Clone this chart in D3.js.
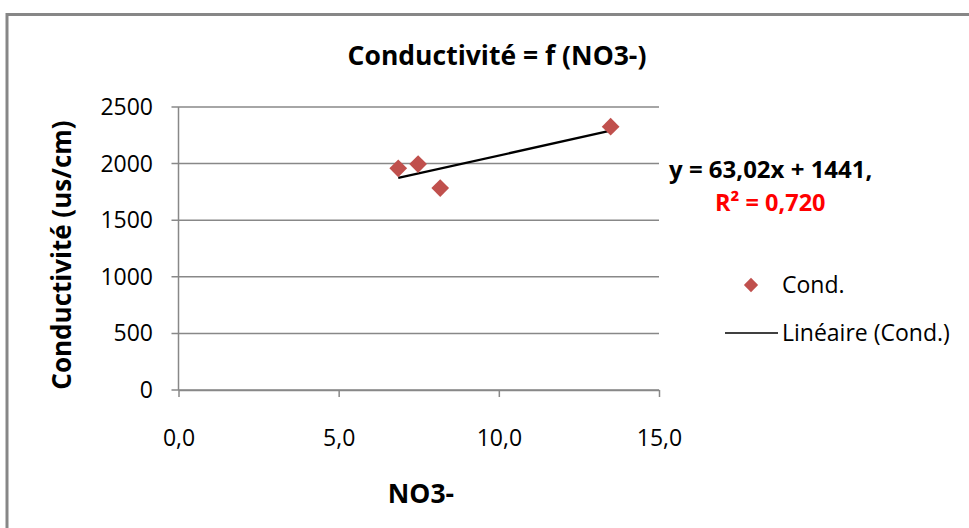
<!DOCTYPE html>
<html>
<head>
<meta charset="utf-8">
<script src="https://cdn.jsdelivr.net/npm/d3@7"></script>
<style>
  body { margin: 0; background: #fff; }
  svg { display: block; font-family: "Open Sans", sans-serif; }
</style>
</head>
<body>
<div id="chart"></div>
<script>
// DATA
const seriesName = "Cond.";
const no3 = [6.86, 7.48, 8.17, 13.49];
const cond = [1958, 1996, 1784, 2326];
const trendSlope = 63.02;
const trendIntercept = 1441;
const xTicks = [0, 5, 10, 15];
const yTicks = [0, 500, 1000, 1500, 2000, 2500];

const W = 969, H = 528;
const plot = { left: 178.5, right: 659, top: 107, bottom: 390 };

const svg = d3.select("#chart").append("svg")
    .attr("width", W)
    .attr("height", H);

// outer frame (cut off on right and bottom)
svg.append("path")
    .attr("d", `M7,${H + 5} V14.5 H${W + 5}`)
    .attr("fill", "none")
    .attr("stroke", "#878787")
    .attr("stroke-width", 3);

// scales
const x = d3.scaleLinear().domain([0, 15]).range([plot.left, plot.right]);
const y = d3.scaleLinear().domain([0, 2500]).range([plot.bottom, plot.top]);

// gridlines + y ticks
svg.append("g")
    .selectAll("line")
    .data(yTicks)
    .join("line")
    .attr("x1", plot.left - 7)
    .attr("x2", plot.right)
    .attr("y1", d => y(d))
    .attr("y2", d => y(d))
    .attr("stroke", "#888")
    .attr("stroke-width", 1.5);

// y axis line
svg.append("line")
    .attr("x1", plot.left).attr("x2", plot.left)
    .attr("y1", plot.top).attr("y2", plot.bottom)
    .attr("stroke", "#888")
    .attr("stroke-width", 1.5);

// x axis
const xAxis = svg.append("g")
    .attr("transform", `translate(0,${plot.bottom})`)
    .call(d3.axisBottom(x).tickValues(xTicks).tickSize(7).tickSizeOuter(0)
        .tickFormat(d => d3.format(".1f")(d).replace(".", ",")));
xAxis.select(".domain").attr("stroke", "#888").attr("stroke-width", 1.5);
xAxis.selectAll(".tick line").attr("stroke", "#888").attr("stroke-width", 1.5);
xAxis.selectAll(".tick text")
    .attr("y", 48)
    .attr("dy", "0.35em")
    .style("font-size", "23px")
    .style("font-family", "'Open Sans', sans-serif")
    .attr("fill", "#000");

// y tick labels
svg.append("g")
    .selectAll("text")
    .data(yTicks)
    .join("text")
    .attr("x", 153)
    .attr("y", d => y(d))
    .attr("dy", "0.35em")
    .attr("text-anchor", "end")
    .style("font-size", "23px")
    .text(d => d);

// trend line
const xs = d3.extent(no3);
const trend = xs.map(v => ({ x: v, y: trendSlope * v + trendIntercept }));
svg.append("path")
    .datum(trend)
    .attr("d", d3.line().x(d => x(d.x)).y(d => y(d.y)))
    .attr("stroke", "#000")
    .attr("stroke-width", 2.2)
    .attr("fill", "none");

// points
const diamond = d3.symbol().type(d3.symbolDiamond2).size(200);
svg.append("g")
    .selectAll("path")
    .data(no3.map((v, i) => ({ x: v, y: cond[i] })))
    .join("path")
    .attr("d", diamond)
    .attr("transform", d => `translate(${x(d.x)},${y(d.y)})`)
    .attr("fill", "#C0504D");

// title
svg.append("text")
    .attr("x", 497)
    .attr("y", 56)
    .attr("dy", "0.35em")
    .attr("text-anchor", "middle")
    .style("font-size", "26.5px")
    .style("font-weight", "bold")
    .text("Conductivité = f (NO3-)");

// axis titles
svg.append("text")
    .attr("transform", "translate(62,255) rotate(-90)")
    .attr("dy", "0.35em")
    .attr("text-anchor", "middle")
    .style("font-size", "26px")
    .style("font-weight", "bold")
    .text("Conductivité (us/cm)");

svg.append("text")
    .attr("x", 421)
    .attr("y", 494)
    .attr("dy", "0.35em")
    .attr("text-anchor", "middle")
    .style("font-size", "26.5px")
    .style("font-weight", "bold")
    .text("NO3-");

// equation
svg.append("text")
    .attr("x", 669)
    .attr("y", 170)
    .attr("dy", "0.35em")
    .style("font-size", "24px")
    .style("font-weight", "bold")
    .text(`y = ${String(trendSlope).replace(".", ",")}x + ${trendIntercept},`);

svg.append("text")
    .attr("x", 715)
    .attr("y", 203)
    .attr("dy", "0.35em")
    .attr("fill", "#FF0000")
    .style("font-size", "23.5px")
    .style("font-weight", "bold")
    .text("R² = 0,720");

// legend
svg.append("path")
    .attr("d", d3.symbol().type(d3.symbolDiamond2).size(130))
    .attr("transform", "translate(751,285)")
    .attr("fill", "#C0504D");
svg.append("text")
    .attr("x", 782)
    .attr("y", 285)
    .attr("dy", "0.35em")
    .style("font-size", "23px")
    .text(seriesName);

svg.append("line")
    .attr("x1", 725).attr("x2", 778)
    .attr("y1", 333).attr("y2", 333)
    .attr("stroke", "#000")
    .attr("stroke-width", 1.5);
svg.append("text")
    .attr("x", 782)
    .attr("y", 333)
    .attr("dy", "0.35em")
    .style("font-size", "23px")
    .text(`Linéaire (${seriesName})`);
</script>
</body>
</html>
